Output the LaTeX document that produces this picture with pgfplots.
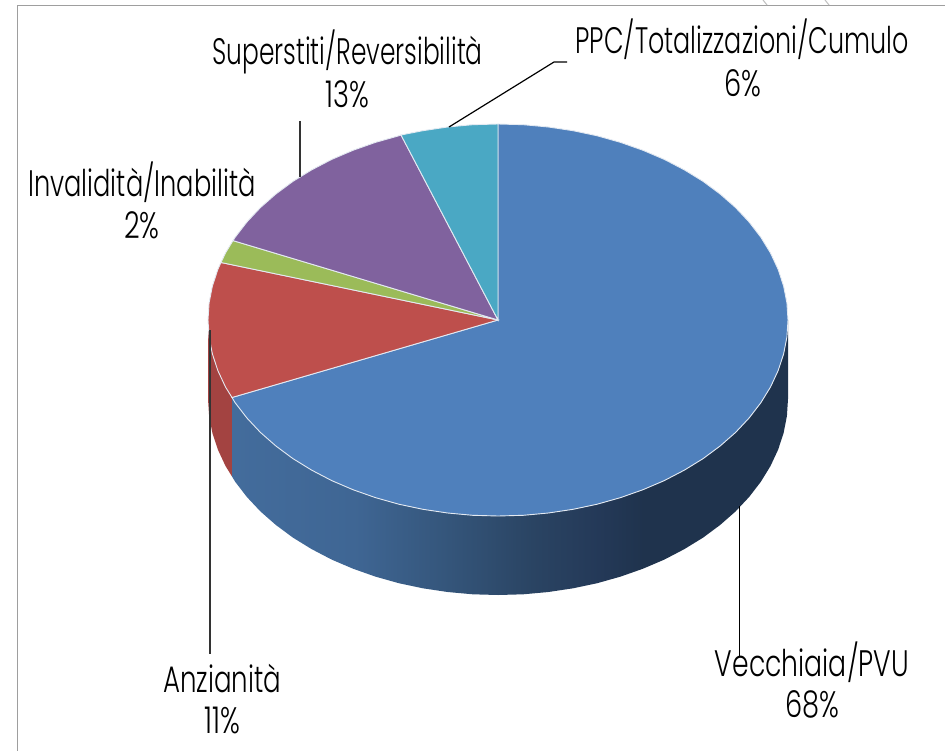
\documentclass[border=0pt]{standalone}
\usepackage{pgfplots}
\pgfplotsset{compat=1.18}
\usepackage{fontspec}
\setmainfont{Poppins}
\newfontfamily\lab{Poppins Light}
\definecolor{cblue}{HTML}{4F80BC}
\definecolor{cred}{HTML}{BE4F4C}
\definecolor{cgreen}{HTML}{9BBB59}
\definecolor{cpurple}{HTML}{80629E}
\definecolor{caqua}{HTML}{4AA8C4}
\definecolor{sred}{HTML}{A34341}
\definecolor{edge}{HTML}{E4EAF2}
\pgfdeclarehorizontalshading{blueside}{100bp}{
 rgb(0bp)=(0.263,0.424,0.612);
 rgb(25bp)=(0.263,0.424,0.612);
 rgb(36bp)=(0.247,0.400,0.580);
 rgb(44.6bp)=(0.204,0.333,0.478);
 rgb(52bp)=(0.165,0.267,0.388);
 rgb(58bp)=(0.141,0.224,0.345);
 rgb(62bp)=(0.122,0.200,0.302);
 rgb(75bp)=(0.122,0.200,0.302);
 rgb(100bp)=(0.122,0.200,0.302)}
\newcommand{\lbl}[4]{\node[font=\lab\fontsize{37}{37}\selectfont, anchor=base, inner sep=0pt, text=black, xscale=#4, transform shape] at (axis cs:#1,#2) {#3};}
\begin{document}
\begin{tikzpicture}
\useasboundingbox (0,0) rectangle (945bp,751bp);
\begin{axis}[hide axis, scale only axis, width=945bp, height=751bp,
  xmin=0, xmax=945, ymin=0, ymax=751, y dir=reverse, enlargelimits=false]
% frame
\addplot[no marks, draw=black!38, line width=1.4bp] coordinates {(17.5,751) (17.5,5.5) (945,5.5)};
\addplot[no marks, draw=black!25, line width=1bp] coordinates {(763,0) (767,5)};
\addplot[no marks, draw=black!25, line width=1bp] coordinates {(825,0) (829,5)};
% side: red
\addplot[no marks, draw=none, fill=sred] coordinates {
(208,320)(209.1,337.1)(212.4,354)(217.9,370.7)(225.5,387)(232,397.5)
(232,476.5)(225.5,466)(217.9,449.7)(212.4,433)(209.1,416.1)(208,399)} --cycle;
% side: blue
\addplot[no marks, draw=none, shade, shading=blueside] coordinates {
(788,320)(786.9,337.1)(783.6,354)(778.1,370.7)(770.5,387)(760.8,402.8)(749.1,418)(735.6,432.4)(720.1,446)(703.1,458.6)(684.4,470.1)(664.3,480.6)(643,489.7)(620.6,497.6)(597.2,504.2)(573.1,509.3)(548.4,513)(523.3,515.3)(498,516)(472.7,515.3)(447.6,513)(422.9,509.3)(398.8,504.2)(375.4,497.6)(353,489.7)(331.7,480.6)(311.6,470.1)(292.9,458.6)(275.9,446)(260.4,432.4)(246.9,418)(235.2,402.8)(232,397.5)
(232,476.5)(235.2,481.8)(246.9,497)(260.4,511.4)(275.9,525)(292.9,537.6)(311.6,549.1)(331.7,559.6)(353,568.7)(375.4,576.6)(398.8,583.2)(422.9,588.3)(447.6,592)(472.7,594.3)(498,595)(523.3,594.3)(548.4,592)(573.1,588.3)(597.2,583.2)(620.6,576.6)(643,568.7)(664.3,559.6)(684.4,549.1)(703.1,537.6)(720.1,525)(735.6,511.4)(749.1,497)(760.8,481.8)(770.5,466)(778.1,449.7)(783.6,433)(786.9,416.1)(788,399)} --cycle;
% top: Vecchiaia/PVU 68
\addplot[no marks, draw=edge, line width=0.9bp, fill=cblue] coordinates {
(498,320)(498,124)(523.3,124.7)(548.4,127)(573.1,130.7)(597.2,135.8)(620.6,142.4)(643,150.3)(664.3,159.4)(684.4,169.9)(703.1,181.4)(720.1,194)(735.6,207.6)(749.1,222)(760.8,237.2)(770.5,253)(778.1,269.3)(783.6,286)(786.9,302.9)(788,320)(786.9,337.1)(783.6,354)(778.1,370.7)(770.5,387)(760.8,402.8)(749.1,418)(735.6,432.4)(720.1,446)(703.1,458.6)(684.4,470.1)(664.3,480.6)(643,489.7)(620.6,497.6)(597.2,504.2)(573.1,509.3)(548.4,513)(523.3,515.3)(498,516)(472.7,515.3)(447.6,513)(422.9,509.3)(398.8,504.2)(375.4,497.6)(353,489.7)(331.7,480.6)(311.6,470.1)(292.9,458.6)(275.9,446)(260.4,432.4)(246.9,418)(235.2,402.8)(232,397.5)} --cycle;
% top: Anzianita 11
\addplot[no marks, draw=edge, line width=0.9bp, fill=cred] coordinates {
(498,320)(232,397.5)(225.5,387)(217.9,370.7)(212.4,354)(209.1,337.1)(208,320)(209.1,302.9)(212.4,286)(217.9,269.3)(221,262.5)} --cycle;
% top: Invalidita 2
\addplot[no marks, draw=edge, line width=0.9bp, fill=cgreen] coordinates {
(498,320)(221,262.5)(225.5,253)(233,240.6)} --cycle;
% top: Superstiti 13
\addplot[no marks, draw=edge, line width=0.9bp, fill=cpurple] coordinates {
(498,320)(233,240.6)(235.2,237.2)(246.9,222)(260.4,207.6)(275.9,194)(292.9,181.4)(311.6,169.9)(331.7,159.4)(353,150.3)(375.4,142.4)(398.8,135.8)(401,135)} --cycle;
% top: PPC 6
\addplot[no marks, draw=edge, line width=0.9bp, fill=caqua] coordinates {
(498,320)(401,135)(422.9,130.7)(447.6,127)(472.7,124.7)(498,124)} --cycle;
% leaders
\addplot[no marks, draw=black!80, line width=1.3bp] coordinates {(210,330)(210,654)};
\addplot[no marks, draw=black, line width=1bp] coordinates {(739.5,506)(739.5,657)};
\addplot[no marks, draw=black!80, line width=1.3bp] coordinates {(300,121)(300,177)};
\addplot[no marks, draw=black, line width=1.2bp] coordinates {(449,127)(554,62)(567,62)};
% labels
\lbl{347.5}{65}{Superstiti/Reversibilità}{0.676}
\lbl{347.5}{108}{13\%}{0.74}
\lbl{142}{196}{Invalidità/Inabilità}{0.697}
\lbl{142}{238}{2\%}{0.74}
\lbl{742}{54}{PPC/Totalizzazioni/Cumulo}{0.69}
\lbl{743}{97}{6\%}{0.74}
\lbl{222}{692}{Anzianità}{0.707}
\lbl{222}{733}{11\%}{0.74}
\lbl{812}{676}{Vecchiaia/PVU}{0.724}
\lbl{812}{717}{68\%}{0.74}
\end{axis}
\end{tikzpicture}
\end{document}
